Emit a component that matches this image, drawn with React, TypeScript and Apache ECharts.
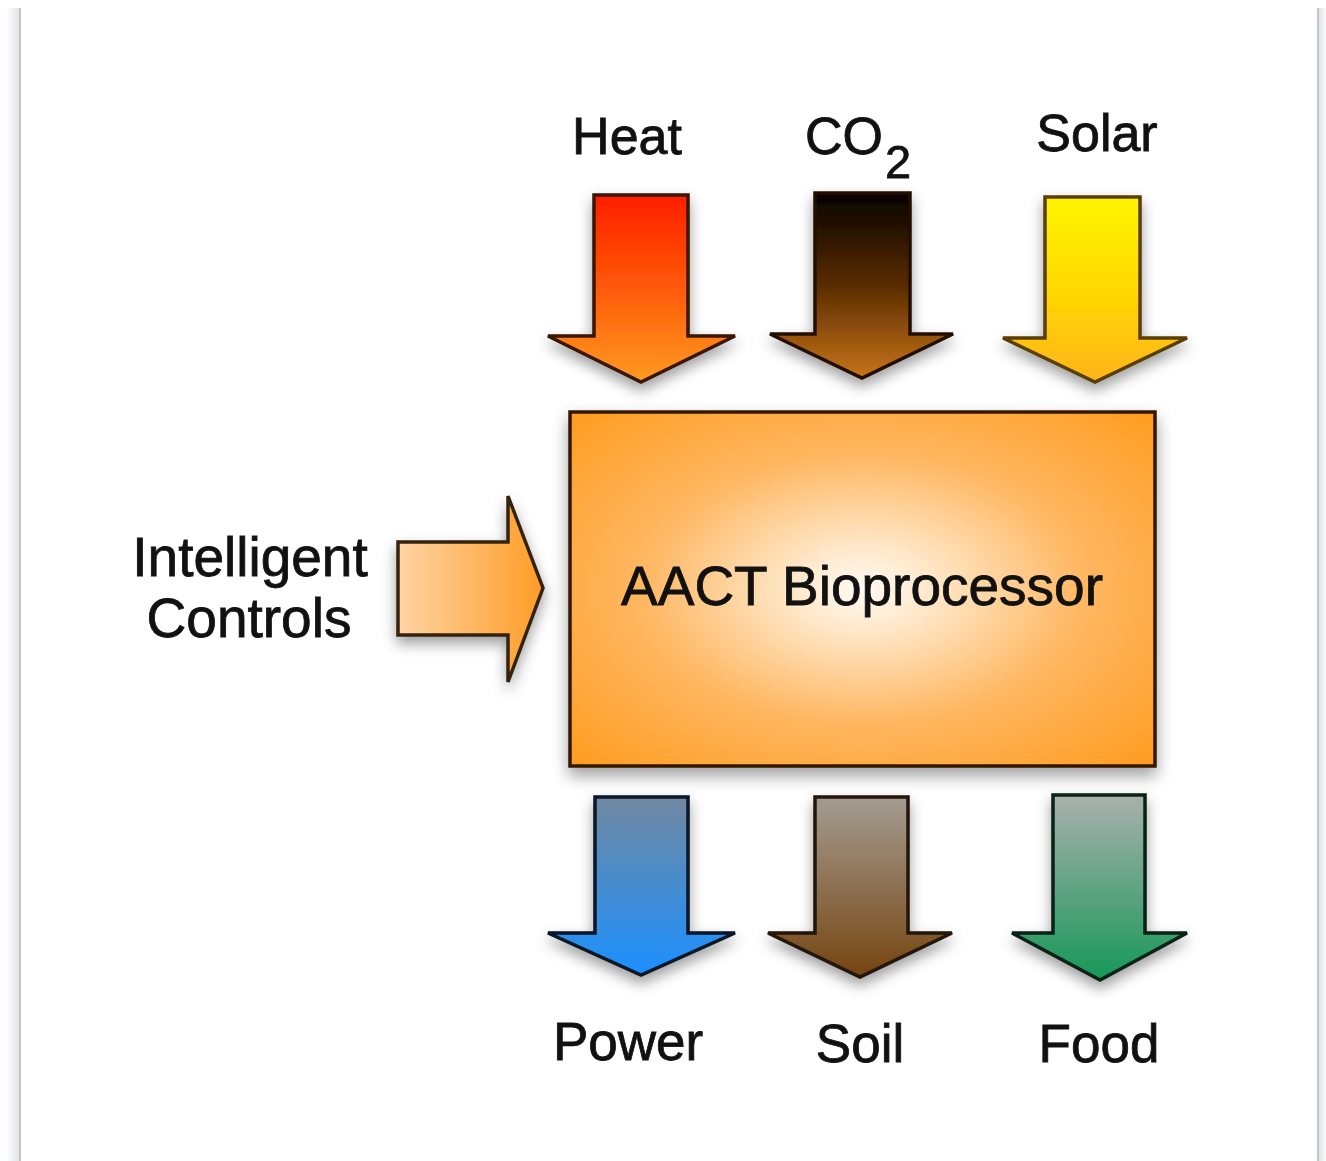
import React, { useEffect, useRef } from "react";
import * as echarts from "echarts";

// ---- diagram content ----
const inputLabels = ["Heat", "CO", "Solar"];
const inputTopColors = ["#ff1e00", "#050200", "#fff500"];
const inputMidColors = ["#ff5a08", "#5a2c00", "#ffd800"];
const inputBottomColors = ["#ff9a22", "#c87418", "#ffb41a"];
const inputStrokes = ["#3a1400", "#241000", "#5a3e00"];

const outputLabels = ["Power", "Soil", "Food"];
const outputTopColors = ["#7088a0", "#a49c92", "#aab0ae"];
const outputBottomColors = ["#1c90ff", "#764410", "#169858"];
const outputStrokes = ["#081626", "#221408", "#082216"];

const controlLabel = ["Intelligent", "Controls"];
const processorLabel = "AACT Bioprocessor";
const subscript = "2";

// ---- layout (pixels) ----
const topArrows = [
  { sl: 594, sr: 688, top: 195, hb: 336, hl: 548, hr: 735, tx: 641, ty: 382 },
  { sl: 815, sr: 910, top: 193, hb: 334, hl: 770, hr: 953, tx: 862, ty: 378 },
  { sl: 1045, sr: 1140, top: 197, hb: 338, hl: 1003, hr: 1187, tx: 1095, ty: 382 },
];
const bottomArrows = [
  { sl: 595, sr: 688, top: 797, hb: 933, hl: 548, hr: 735, tx: 641, ty: 975 },
  { sl: 815, sr: 908, top: 797, hb: 933, hl: 768, hr: 952, tx: 860, ty: 977 },
  { sl: 1053, sr: 1145, top: 795, hb: 933, hl: 1012, hr: 1187, tx: 1100, ty: 980 },
];
const topLabelPos = [
  { x: 627, y: 136, align: "center" },
  { x: 805, y: 136, align: "left" },
  { x: 1097, y: 133, align: "center" },
];
const bottomLabelPos = [
  { x: 628, y: 1041 },
  { x: 860, y: 1043 },
  { x: 1099, y: 1043 },
];

const FONT = "Liberation Sans, Arial, Helvetica, sans-serif";

function downArrow(a: any, stops: any[], stroke: string) {
  return {
    type: "polygon",
    shape: {
      points: [
        [a.sl, a.top],
        [a.sr, a.top],
        [a.sr, a.hb],
        [a.hr, a.hb],
        [a.tx, a.ty],
        [a.hl, a.hb],
        [a.sl, a.hb],
      ],
    },
    style: {
      fill: {
        type: "linear",
        x: 0,
        y: 0,
        x2: 0,
        y2: 1,
        colorStops: stops,
      },
      stroke,
      lineWidth: 3.5,
      lineJoin: "miter",
      shadowBlur: 14,
      shadowColor: "rgba(0,0,0,0.38)",
      shadowOffsetY: 7,
    },
  };
}

function textEl(text: string, x: number, y: number, size: number, align = "center") {
  return {
    type: "text",
    x,
    y,
    style: {
      text,
      font: `${size}px ${FONT}`,
      fill: "#111111",
      stroke: "#111111",
      lineWidth: 0.8,
      align,
      verticalAlign: "middle",
    },
  };
}

export default function App() {
  const ref = useRef<HTMLDivElement>(null);

  useEffect(() => {
    if (!ref.current) return;
    const chart = echarts.init(ref.current, undefined, { renderer: "svg" });
    const elements: any[] = [];

    // page frame
    elements.push({
      type: "rect",
      shape: { x: 0, y: 0, width: 1326, height: 1161 },
      style: { fill: "#ffffff" },
    });
    elements.push({
      type: "rect",
      shape: { x: 6, y: 8, width: 13, height: 1153 },
      style: {
        fill: {
          type: "linear", x: 0, y: 0, x2: 1, y2: 0,
          colorStops: [
            { offset: 0, color: "rgba(230,232,236,0)" },
            { offset: 1, color: "#e2e3e6" },
          ],
        },
      },
    });
    elements.push({
      type: "rect",
      shape: { x: 19, y: 8, width: 2, height: 1153 },
      style: { fill: "#c6c6c6" },
    });
    elements.push({
      type: "rect",
      shape: { x: 1319, y: 8, width: 7, height: 1153 },
      style: {
        fill: {
          type: "linear", x: 0, y: 0, x2: 1, y2: 0,
          colorStops: [
            { offset: 0, color: "#e2e3e6" },
            { offset: 1, color: "rgba(230,232,236,0.2)" },
          ],
        },
      },
    });
    elements.push({
      type: "rect",
      shape: { x: 1317, y: 8, width: 2, height: 1153 },
      style: { fill: "#c6c6c6" },
    });

    // input arrows
    topArrows.forEach((a, i) => {
      elements.push(
        downArrow(
          a,
          [
            { offset: 0, color: inputTopColors[i] },
            { offset: 0.5, color: inputMidColors[i] },
            { offset: 1, color: inputBottomColors[i] },
          ],
          inputStrokes[i]
        )
      );
    });

    // output arrows
    bottomArrows.forEach((a, i) => {
      elements.push(
        downArrow(
          a,
          [
            { offset: 0, color: outputTopColors[i] },
            { offset: 1, color: outputBottomColors[i] },
          ],
          outputStrokes[i]
        )
      );
    });

    // processor box
    elements.push({
      type: "rect",
      shape: { x: 570, y: 412, width: 585, height: 354 },
      style: {
        fill: {
          type: "radial",
          x: 0.5,
          y: 0.5,
          r: 0.85,
          colorStops: [
            { offset: 0, color: "#fffaf4" },
            { offset: 0.15, color: "#ffe6c6" },
            { offset: 0.45, color: "#ffb660" },
            { offset: 0.8, color: "#ff9e24" },
            { offset: 1, color: "#ff9612" },
          ],
        },
        stroke: "#341802",
        lineWidth: 3.5,
        shadowBlur: 16,
        shadowColor: "rgba(0,0,0,0.38)",
        shadowOffsetY: 8,
      },
    });

    // control arrow
    elements.push({
      type: "polygon",
      shape: {
        points: [
          [398, 542],
          [508, 542],
          [508, 496],
          [543, 588],
          [508, 682],
          [508, 635],
          [398, 635],
        ],
      },
      style: {
        fill: {
          type: "linear", x: 0, y: 0, x2: 1, y2: 0,
          colorStops: [
            { offset: 0, color: "#ffd4a4" },
            { offset: 1, color: "#ff9c26" },
          ],
        },
        stroke: "#34240e",
        lineWidth: 3.5,
        shadowBlur: 14,
        shadowColor: "rgba(0,0,0,0.38)",
        shadowOffsetY: 7,
      },
    });

    // texts
    inputLabels.forEach((t, i) => {
      const p = topLabelPos[i];
      elements.push(textEl(t, p.x, p.y, 52, p.align));
    });
    elements.push(textEl(subscript, 885, 161, 47, "left"));
    outputLabels.forEach((t, i) => {
      const p = bottomLabelPos[i];
      elements.push(textEl(t, p.x, p.y, 53));
    });
    elements.push(textEl(controlLabel[0], 250, 557, 55));
    elements.push(textEl(controlLabel[1], 249, 618, 55));
    elements.push(textEl(processorLabel, 862, 586, 55));

    chart.setOption({
      animation: false,
      graphic: { elements },
    });

    return () => chart.dispose();
  }, []);

  return (
    <div
      ref={ref}
      style={{ position: "fixed", left: 0, top: 0, width: 1326, height: 1161 }}
    />
  );
}
